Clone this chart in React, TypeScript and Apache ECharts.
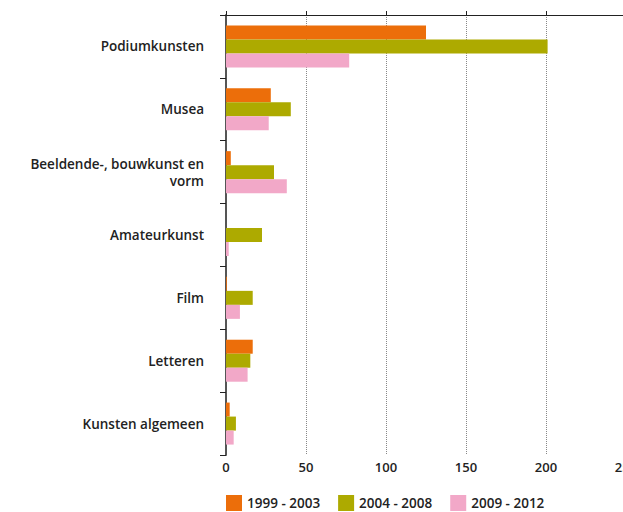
import React, { useEffect, useRef } from "react";
import * as echarts from "echarts";

const categories = [
  "Podiumkunsten",
  "Musea",
  "Beeldende-, bouwkunst en\nvorm",
  "Amateurkunst",
  "Film",
  "Letteren",
  "Kunsten algemeen",
];
const seriesNames = ["1999 - 2003", "2004 - 2008", "2009 - 2012"];
const values1999 = [125, 28, 3, 0, 0.5, 16.7, 2.3];
const values2004 = [201, 40.5, 30, 22.5, 16.7, 15.2, 6.2];
const values2009 = [77, 26.7, 38, 1.7, 8.7, 13.5, 4.8];
const colors = ["#EC6E0A", "#ADAA00", "#F2A8C8"];
const xTicks = { min: 0, max: 250, interval: 50 };

export default function App() {
  const ref = useRef<HTMLDivElement>(null);
  useEffect(() => {
    const chart = echarts.init(ref.current!, null, { renderer: "svg" });
    const font = "'Open Sans', sans-serif";
    const allValues = [values1999, values2004, values2009];
    chart.setOption({
      animation: false,
      color: colors,
      textStyle: { fontFamily: font },
      grid: { left: 226, top: 15, width: 400, bottom: 57, containLabel: false, outerBoundsMode: "none" },
      legend: {
        left: 226,
        top: 495,
        padding: 0,
        itemWidth: 16,
        itemHeight: 16,
        itemGap: 18,
        icon: "rect",
        textStyle: { fontFamily: font, fontSize: 13.5, fontWeight: 600, color: "#222" },
        data: seriesNames,
      },
      xAxis: [
        {
          type: "value",
          position: "bottom",
          ...xTicks,
          axisLine: { show: false },
          axisTick: { show: false },
          axisLabel: { fontFamily: font, fontSize: 13, fontWeight: 600, color: "#222", margin: 5 },
          splitLine: { show: true, lineStyle: { type: "dotted", color: "#888", width: 1 } },
        },
        {
          type: "value",
          position: "top",
          ...xTicks,
          axisLine: { show: true, lineStyle: { color: "#222", width: 1 } },
          axisTick: { show: true, length: 4, lineStyle: { color: "#222" } },
          axisLabel: { show: false },
          splitLine: { show: false },
        },
      ],
      yAxis: {
        type: "category",
        inverse: true,
        data: categories,
        axisLine: { show: true, lineStyle: { color: "#555", width: 2 } },
        axisTick: { show: true, length: 6, lineStyle: { color: "#222" } },
        axisLabel: {
          fontFamily: font,
          fontSize: 13.5,
          fontWeight: 600,
          color: "#222",
          margin: 22,
          lineHeight: 17,
          align: "right",
        },
      },
      series: seriesNames.map((name, i) => ({
        name,
        type: "bar",
        xAxisIndex: 0,
        data: allValues[i],
        barWidth: 14,
        barGap: "0%",
        itemStyle: { color: colors[i] },
      })),
    });
    return () => chart.dispose();
  }, []);
  return (
    <div
      ref={ref}
      style={{ position: "fixed", left: 0, top: 0, width: 623, height: 512, background: "#fff" }}
    />
  );
}
